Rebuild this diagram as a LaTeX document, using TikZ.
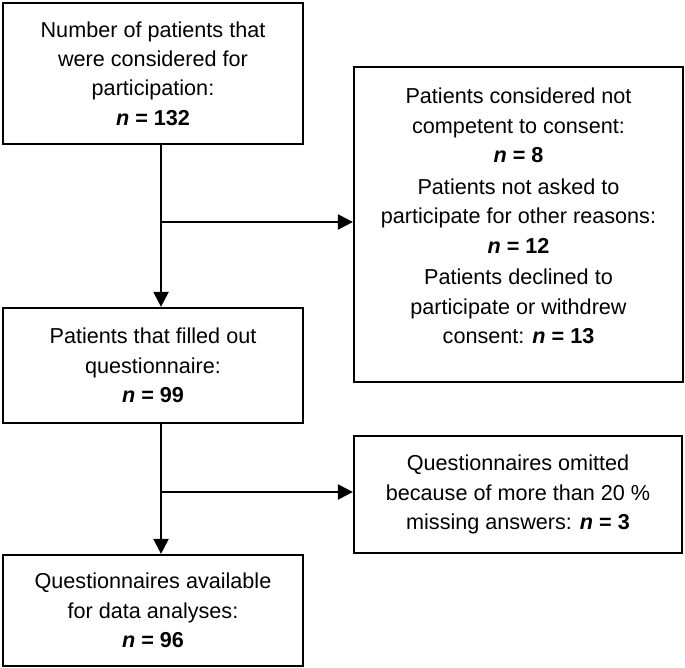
\documentclass[tikz,border=0pt]{standalone}
\usepackage{fontspec}
\setmainfont{Liberation Sans}
\usetikzlibrary{arrows.meta}
\tikzset{
  flowbox/.style={draw, line width=2.2bp, align=center, inner sep=0pt,
    font=\fontsize{21.7}{29.5}\selectfont},
  flowtext/.style={align=center, inner sep=0pt, font=\fontsize{21.7}{29.5}\selectfont},
  flowarrow/.style={line width=2.2bp, -{Triangle[length=15bp,width=15bp]}},
}
\newcommand{\nval}[1]{\textbf{\textit{n} = #1}}
\begin{document}
\begin{tikzpicture}[x=1bp,y=-1bp]
\useasboundingbox (0,0) rectangle (685,668);
% left column
\node[flowbox, minimum width=300bp, minimum height=141bp] (count) at (153,73.5)
  {Number of patients that\\ were considered for\\ participation:\\ \nval{132}};
\node[flowbox, minimum width=300bp, minimum height=115bp] (filled) at (153,365.5)
  {Patients that filled out\\ questionnaire:\\ \nval{99}};
\node[flowbox, minimum width=300bp, minimum height=111bp] (avail) at (153,610.5)
  {Questionnaires available\\ for data analyses:\\ \nval{96}};
% right column
\node[flowbox, minimum width=329bp, minimum height=315bp] (excl) at (518.5,224.5) {};
\node[flowtext] (excltext) at ([yshift=8.5bp]excl.center)
  {Patients considered not\\ competent to consent:\\ \nval{8}\\[2.5bp]
   Patients not asked to\\ participate for other reasons:\\ \nval{12}\\[2.5bp]
   Patients declined to\\ participate or withdrew\\ consent: \nval{13}};
\node[flowbox, minimum width=328bp, minimum height=117bp] (omit) at (518,494.5)
  {Questionnaires omitted\\ because of more than 20 \%\\ missing answers: \nval{3}};
% connectors
\coordinate (split1) at (161,222);
\coordinate (split2) at (161,492);
\draw[flowarrow] ([xshift=8bp]count.south) -- ([xshift=8bp]filled.north);
\draw[flowarrow] ([xshift=8bp]filled.south) -- ([xshift=8bp]avail.north);
\draw[flowarrow] (split1) -- (split1 -| excl.west);
\draw[flowarrow] (split2) -- (split2 -| omit.west);
\end{tikzpicture}
\end{document}
